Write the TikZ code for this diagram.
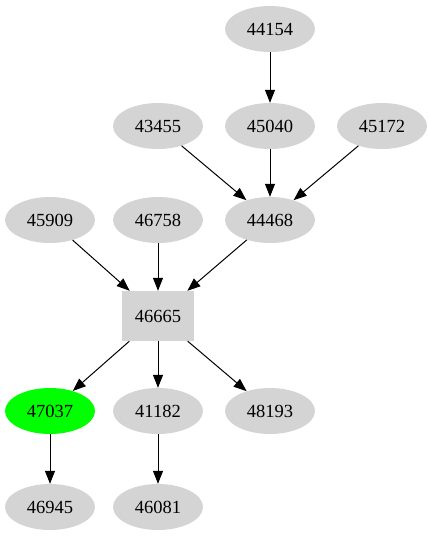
\documentclass[tikz,border=0pt]{standalone}
\usepackage{fontspec}
\setmainfont{Liberation Serif}
\usetikzlibrary{arrows.meta,shapes.geometric}
\begin{document}
\begin{tikzpicture}[x=1pt,y=-1pt,
  el/.style={ellipse,fill=black!17,minimum width=90pt,minimum height=46pt,inner sep=0pt,font=\fontsize{18.5}{20}\selectfont},
  bx/.style={rectangle,fill=black!17,minimum width=72pt,minimum height=50pt,inner sep=0pt,font=\fontsize{18.5}{20}\selectfont},
  ed/.style={-{Triangle[length=13pt,width=10pt]},line width=1pt}]
\useasboundingbox (0,0) rectangle (429,539);
\node[el] (n44154) at (270,29) {44154};
\node[el] (n43455) at (158,126) {43455};
\node[el] (n45040) at (270,126) {45040};
\node[el] (n45172) at (382,126) {45172};
\node[el] (n45909) at (50,220) {45909};
\node[el] (n46758) at (158,220) {46758};
\node[el] (n44468) at (270,220) {44468};
\node[bx] (n46665) at (158,316) {46665};
\node[el,fill=green] (n47037) at (50,411) {47037};
\node[el] (n41182) at (158,411) {41182};
\node[el] (n48193) at (270,411) {48193};
\node[el] (n46945) at (50,507) {46945};
\node[el] (n46081) at (158,507) {46081};
\draw[ed] (n44154) -- (n45040);
\draw[ed] (n43455) -- (n44468);
\draw[ed] (n45040) -- (n44468);
\draw[ed] (n45172) -- (n44468);
\draw[ed] (n45909) -- (n46665);
\draw[ed] (n46758) -- (n46665);
\draw[ed] (n44468) -- (n46665);
\draw[ed] (n46665) -- (n47037);
\draw[ed] (n46665) -- (n41182);
\draw[ed] (n46665) -- (n48193);
\draw[ed] (n47037) -- (n46945);
\draw[ed] (n41182) -- (n46081);
\end{tikzpicture}
\end{document}
